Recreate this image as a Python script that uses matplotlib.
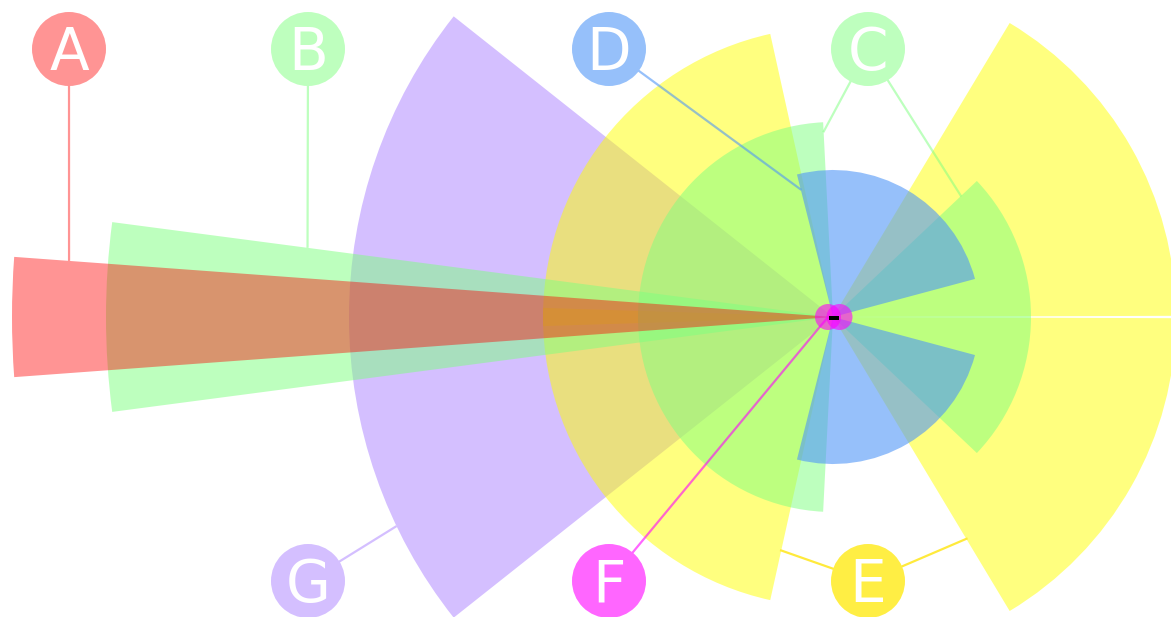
import numpy as np
import matplotlib.pyplot as plt
from matplotlib.patches import Wedge, Circle, Rectangle

W, H = 1171, 617
cx, cy = 833, 300  # common centre of all slices (y measured upwards)

# slices: series, start angle, end angle (deg, ccw from +x), outer radius (px)
wedge_series = ["G", "E", "E", "E", "E", "C", "C", "B", "D", "D", "A"]
wedge_start = [141.6, 102.5, 178.2, 0.2, -59.0, 92.9, -43.4, 172.5, 15.0, -104.2, 175.8]
wedge_end = [218.4, 181.8, 257.5, 59.0, -0.2, 267.1, 43.4, 187.5, 104.2, -15.0, 184.2]
wedge_radius = [484, 290, 290, 343, 343, 195, 198, 727, 147, 147, 821]

# series F is drawn as two small dots at the centre
f_offsets = [-5.0, 6.5]
f_radius = 13

colors = {
    "A": (1.0, 0.0, 0.0, 0.42),
    "B": (127 / 255, 1.0, 128 / 255, 0.51),
    "C": (127 / 255, 1.0, 128 / 255, 0.51),
    "D": (80 / 255, 150 / 255, 247 / 255, 0.6),
    "E": (1.0, 1.0, 0.0, 0.5),
    "F": (1.0, 0.0, 1.0, 0.6),
    "G": (148 / 255, 95 / 255, 1.0, 0.4),
}

# labels: name, x position, row, anchor points (angle, radius) on the slices
label_names = ["A", "B", "D", "C", "G", "F", "E"]
label_x = [69, 308, 609, 868, 308, 609, 868]
label_row = ["top", "top", "top", "top", "bottom", "bottom", "bottom"]
label_anchors = [
    [(175.8, 766)],
    [(172.5, 530)],
    [(104.0, 131)],
    [(93.0, 185), (43.2, 176)],
    [(205.6, 484)],
    [(180.0, 5)],
    [(257.2, 239), (-58.7, 259)],
]
row_y = {"top": H - 49, "bottom": H - 581}
label_r = 37


def solid(rgba):
    r, g, b, a = rgba
    return (a * r + 1 - a, a * g + 1 - a, a * b + 1 - a)


def polar(theta, r):
    t = np.deg2rad(theta)
    return cx + r * np.cos(t), cy + r * np.sin(t)


fig = plt.figure(figsize=(W / 100, H / 100), dpi=100)
ax = fig.add_axes([0, 0, 1, 1])
ax.set_xlim(0, W)
ax.set_ylim(0, H)
ax.axis("off")

z = 1
for s, t1, t2, r in zip(wedge_series, wedge_start, wedge_end, wedge_radius):
    ax.add_patch(Wedge((cx, cy), r, t1, t2, facecolor=colors[s],
                       edgecolor="none", zorder=z))
    z += 1

for off in f_offsets:
    ax.add_patch(Circle((cx + off, cy), f_radius, facecolor=colors["F"],
                        edgecolor="none", zorder=z))
ax.add_patch(Rectangle((cx - 3.7, cy - 2.8), 10, 4, facecolor="black",
                       edgecolor="none", zorder=z + 1))

for name, x, row, anchors in zip(label_names, label_x, label_row, label_anchors):
    y = row_y[row]
    if name == "E":
        line_col = "#ffea3c"
        fill = "#ffee44"
    else:
        line_col = colors[name]
        fill = solid(colors[name])
    for theta, r in anchors:
        ax_, ay_ = polar(theta, r)
        ax.plot([x, ax_], [y, ay_], color=line_col, lw=1.6,
                solid_capstyle="butt", zorder=30)
    ax.add_patch(Circle((x, y), label_r, facecolor=fill, edgecolor="none",
                        zorder=31))
    ax.text(x, y - 21.3, name, color="white", fontsize=41.8, ha="center",
            va="baseline", family="DejaVu Sans", zorder=32)

fig.savefig("out.png", dpi=100)
